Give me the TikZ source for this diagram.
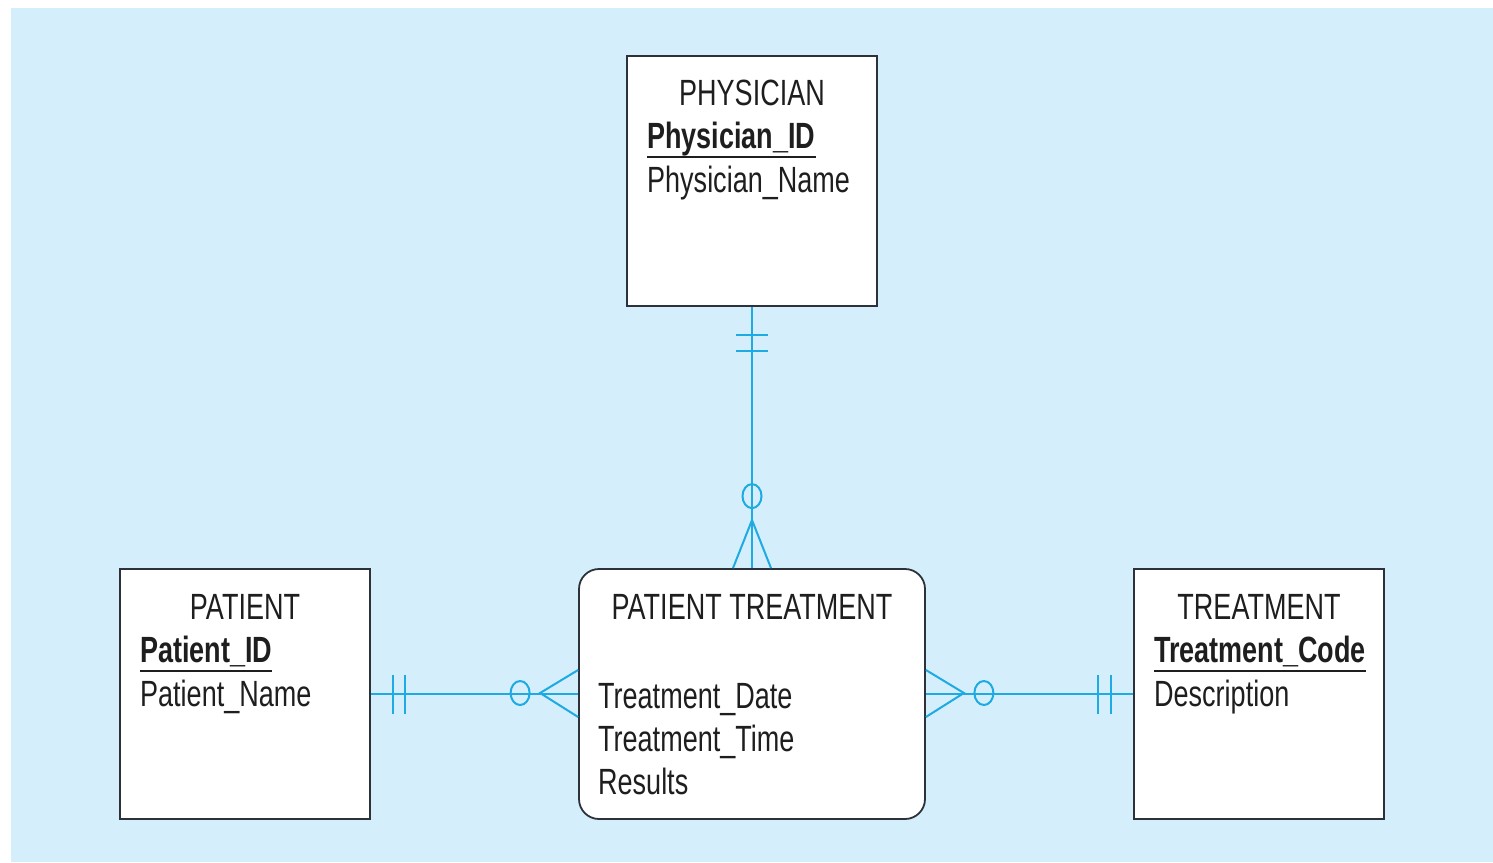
\documentclass[tikz,border=0pt]{standalone}
\usepackage{fontspec}
\setmainfont[FakeStretch=0.74]{Liberation Sans}
\usetikzlibrary{calc}
\definecolor{bgblue}{RGB}{212,238,251}
\definecolor{conn}{RGB}{30,170,226}
\definecolor{boxline}{RGB}{45,50,58}
\definecolor{txt}{RGB}{30,30,30}
\begin{document}
\begin{tikzpicture}[x=1pt,y=-1pt,
  entity/.style={draw=boxline,fill=white,line width=1.8pt,minimum width=250pt,minimum height=250pt,inner sep=0pt},
  assoc/.style={draw=boxline,fill=white,line width=1.8pt,minimum width=346pt,minimum height=250pt,inner sep=0pt,rounded corners=20pt},
  lbl/.style={text=txt,inner sep=0pt,font=\fontsize{36.5}{44}\selectfont},
  keylbl/.style={lbl,font=\fontsize{36.5}{44}\selectfont\bfseries},
  rel/.style={draw=conn,line width=2pt},
  uline/.style={draw=txt,line width=1.6pt}]
\useasboundingbox (0,0) rectangle (1493,862);
\fill[bgblue] (11,8) rectangle (1493,862);

% entities
\node[entity] (phys) at (752,181) {};
\node[entity] (pat) at (245,694) {};
\node[entity] (treat) at (1259,694) {};
\node[assoc] (pt) at (752,694) {};

% PHYSICIAN texts
\node[lbl,anchor=base] (physT) at (752,105) {PHYSICIAN};
\node[keylbl,anchor=base west] (physK) at (647,148) {Physician\_ID};
\node[lbl,anchor=base west] (physA) at (647,192) {Physician\_Name};
\draw[uline] ($(physK.base west)+(0,9)$) -- ($(physK.base east)+(0,9)$);

% PATIENT texts
\node[lbl,anchor=base] (patT) at (245,619) {PATIENT};
\node[keylbl,anchor=base west] (patK) at (140,662) {Patient\_ID};
\node[lbl,anchor=base west] (patA) at (140,706) {Patient\_Name};
\draw[uline] ($(patK.base west)+(0,9)$) -- ($(patK.base east)+(0,9)$);

% TREATMENT texts
\node[lbl,anchor=base] (treatT) at (1259,619) {TREATMENT};
\node[keylbl,anchor=base west] (treatK) at (1154,662) {Treatment\_Code};
\node[lbl,anchor=base west] (treatA) at (1154,706) {Description};
\draw[uline] ($(treatK.base west)+(0,9)$) -- ($(treatK.base east)+(0,9)$);

% PATIENT TREATMENT texts
\node[lbl,anchor=base] (ptT) at (752,619) {PATIENT TREATMENT};
\node[lbl,anchor=base west] (ptA) at (598,708) {Treatment\_Date};
\node[lbl,anchor=base west] (ptB) at (598,751) {Treatment\_Time};
\node[lbl,anchor=base west] (ptC) at (598,794) {Results};

% relationship PHYSICIAN -- PATIENT TREATMENT
\draw[rel] (phys.south) -- (pt.north);
\draw[rel] ($(phys.south)+(-16,28)$) -- ($(phys.south)+(16,28)$);
\draw[rel] ($(phys.south)+(-16,44)$) -- ($(phys.south)+(16,44)$);
\draw[rel,fill=none] ($(pt.north)+(0,-72)$) ellipse [x radius=9.5, y radius=12];
\draw[rel] ($(pt.north)+(-19,0)$) -- ($(pt.north)+(0,-48)$) -- ($(pt.north)+(19,0)$);

% relationship PATIENT -- PATIENT TREATMENT
\draw[rel] (pat.east) -- (pt.west);
\draw[rel] ($(pat.east)+(22,-19)$) -- ($(pat.east)+(22,20)$);
\draw[rel] ($(pat.east)+(34,-19)$) -- ($(pat.east)+(34,20)$);
\draw[rel] ($(pt.west)+(-58,-1)$) ellipse [x radius=9.5, y radius=12];
\draw[rel] ($(pt.west)+(0,-24)$) -- ($(pt.west)+(-38,-1)$) -- ($(pt.west)+(0,23)$);

% relationship PATIENT TREATMENT -- TREATMENT
\draw[rel] (pt.east) -- (treat.west);
\draw[rel] ($(treat.west)+(-35,-19)$) -- ($(treat.west)+(-35,20)$);
\draw[rel] ($(treat.west)+(-22,-19)$) -- ($(treat.west)+(-22,20)$);
\draw[rel] ($(pt.east)+(58,-1)$) ellipse [x radius=9.5, y radius=12];
\draw[rel] ($(pt.east)+(0,-24)$) -- ($(pt.east)+(38,-1)$) -- ($(pt.east)+(0,23)$);
\end{tikzpicture}
\end{document}
